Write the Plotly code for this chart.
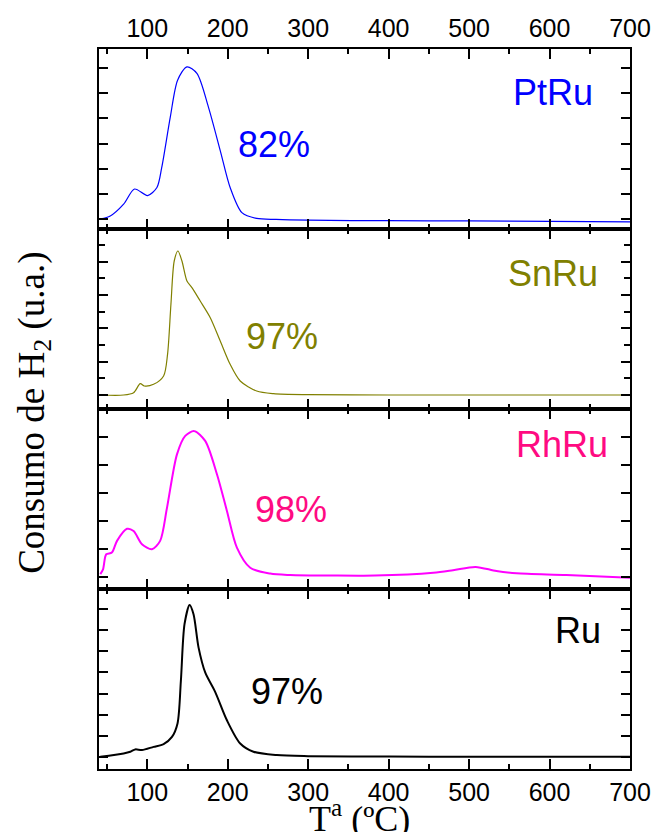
import plotly.graph_objects as go
from plotly.subplots import make_subplots

# Temperature-programmed reduction profiles (H2 consumption, arbitrary units)
T_ptru = [42, 54, 70.6, 84.2, 100.4, 112, 118, 128.6, 137.7, 149.3, 161.7, 176, 190.7,
          203, 217.6, 236, 260, 300, 400, 500, 600, 700]
h2_ptru = [0.0, 0.12, 0.59, 1.19, 0.93, 1.25, 2.05, 4.05, 5.52, 6.05, 5.79, 4.45, 2.72,
           1.25, 0.25, 0.02, -0.02, -0.05, -0.07, -0.08, -0.10, -0.12]

T_snru = [42, 70.6, 83, 91.3, 96.3, 107.8, 120.3, 125.2, 129.4, 133.5, 138.1, 143.1, 149.3,
          155.5, 165.8, 178.3, 190.7, 203, 215.5, 236, 257, 300, 400, 500, 600, 700]
h2_snru = [0.0, 0.0, 0.14, 0.68, 0.54, 0.64, 1.14, 2.44, 5.44, 8.04, 8.64, 8.04, 6.84,
           6.44, 5.64, 4.64, 3.24, 1.84, 0.84, 0.24, 0.08, 0.02, 0.0, 0.0, 0.0, 0.0]

T_rhru = [41.6, 45, 49, 56, 62.4, 74.8, 83, 93.4, 105.8, 116, 124.5, 136.9, 147.2, 158.4,
          172, 186.6, 199, 211.4, 228, 252.8, 277.6, 330, 383, 455.6, 480, 508, 534, 559,
          621, 700]
h2_rhru = [0.09, 0.26, 0.80, 0.86, 1.28, 1.71, 1.63, 1.16, 0.98, 1.28, 2.46, 4.37, 5.03, 5.20,
           4.85, 3.66, 2.35, 1.04, 0.32, 0.11, 0.06, 0.04, 0.04, 0.14, 0.23, 0.35, 0.20, 0.12,
           0.06, -0.04]

T_ru = [41.6, 70.6, 78.9, 85, 93.4, 107.8, 120.3, 130.7, 137.6, 141.8, 146.3, 152.6, 157.5,
        163.7, 172, 184.5, 199, 215.5, 232, 261, 300, 400, 500, 600, 700]
h2_ru = [0.0, 0.16, 0.24, 0.35, 0.32, 0.47, 0.60, 0.94, 1.58, 3.62, 6.29, 7.20, 6.76,
         5.19, 4.00, 3.07, 1.73, 0.63, 0.24, 0.08, 0.03, 0.01, 0.0, 0.0, 0.0]

samples = ["PtRu", "SnRu", "RhRu", "Ru"]
reduction = ["82%", "97%", "98%", "97%"]
x_ticks = [100, 200, 300, 400, 500, 600, 700]

series = [(T_ptru, h2_ptru), (T_snru, h2_snru), (T_rhru, h2_rhru), (T_ru, h2_ru)]
line_colors = ["#0000FF", "#808000", "#FF00FF", "#000000"]
text_colors = ["#0000FF", "#808000", "#FF0A82", "#000000"]
line_widths = [1.2, 1.2, 2.0, 2.0]
y_ranges = [[-0.4, 6.76], [-0.84, 9.96], [-0.44, 5.99], [-0.58, 7.96]]
y_dticks = [1, 2, 1, 1]
name_pos = [(604, 5.04), (604, 7.32), (615, 4.71), (635.6, 5.98)]
pct_pos = [(257, 2.95), (268, 3.5), (279, 2.4), (274, 3.12)]

fig = make_subplots(rows=4, cols=1, vertical_spacing=0)

for i, (T, h2) in enumerate(series):
    r = i + 1
    fig.add_trace(go.Scatter(x=T, y=h2, mode="lines", line=dict(color=line_colors[i], width=line_widths[i],
                                                             shape="spline", smoothing=0.8),
                             showlegend=False, hoverinfo="skip"), row=r, col=1)

    fig.update_xaxes(range=[40, 700], tickvals=x_ticks, ticks="inside", ticklen=10, tickwidth=2,
                     tickcolor="black", showline=True, linewidth=2, linecolor="black",
                     mirror="ticks", showgrid=False, zeroline=False, automargin=False,
                     minor=dict(tickvals=[50, 150, 250, 350, 450, 550, 650], ticks="inside",
                                ticklen=5, tickwidth=2, tickcolor="black"),
                     showticklabels=(r in (1, 4)), side="top" if r == 1 else "bottom",
                     tickfont=dict(family="Liberation Sans", size=25, color="black"),
                     row=r, col=1)

    fig.update_yaxes(range=y_ranges[i], tick0=0, dtick=y_dticks[i], ticks="inside", ticklen=9,
                     tickwidth=2, tickcolor="black", showline=True, linewidth=2, linecolor="black",
                     mirror="ticks", showgrid=False, zeroline=False, showticklabels=False,
                     automargin=False, row=r, col=1)
    if r == 2:
        fig.update_yaxes(minor=dict(dtick=1, ticks="inside", ticklen=6, tickwidth=2, tickcolor="black"),
                         row=r, col=1)

    xref = "x" if r == 1 else f"x{r}"
    yref = "y" if r == 1 else f"y{r}"
    fig.add_annotation(x=name_pos[i][0], y=name_pos[i][1], xref=xref, yref=yref, text=samples[i],
                       showarrow=False, font=dict(family="Liberation Sans", size=36, color=text_colors[i]))
    fig.add_annotation(x=pct_pos[i][0], y=pct_pos[i][1], xref=xref, yref=yref, text=reduction[i],
                       showarrow=False, font=dict(family="Liberation Sans", size=36, color=text_colors[i]))

fig.add_annotation(x=-0.122, y=0.495, xref="paper", yref="paper", xanchor="center", yanchor="middle",
                   text="Consumo de H<sub>2</sub> (u.a.)", textangle=-90, showarrow=False,
                   font=dict(family="Liberation Serif", size=37, color="black"))
fig.add_annotation(x=0.49, y=-0.0655, xref="paper", yref="paper", xanchor="center", yanchor="middle",
                   text="T<sup>a</sup> (ºC)", showarrow=False, borderpad=0,
                   font=dict(family="Liberation Serif", size=36, color="black"))

fig.update_layout(width=654, height=832, margin=dict(l=99, r=24, t=49, b=63, autoexpand=False),
                  plot_bgcolor="white", paper_bgcolor="white")

fig.write_html("out.html")
